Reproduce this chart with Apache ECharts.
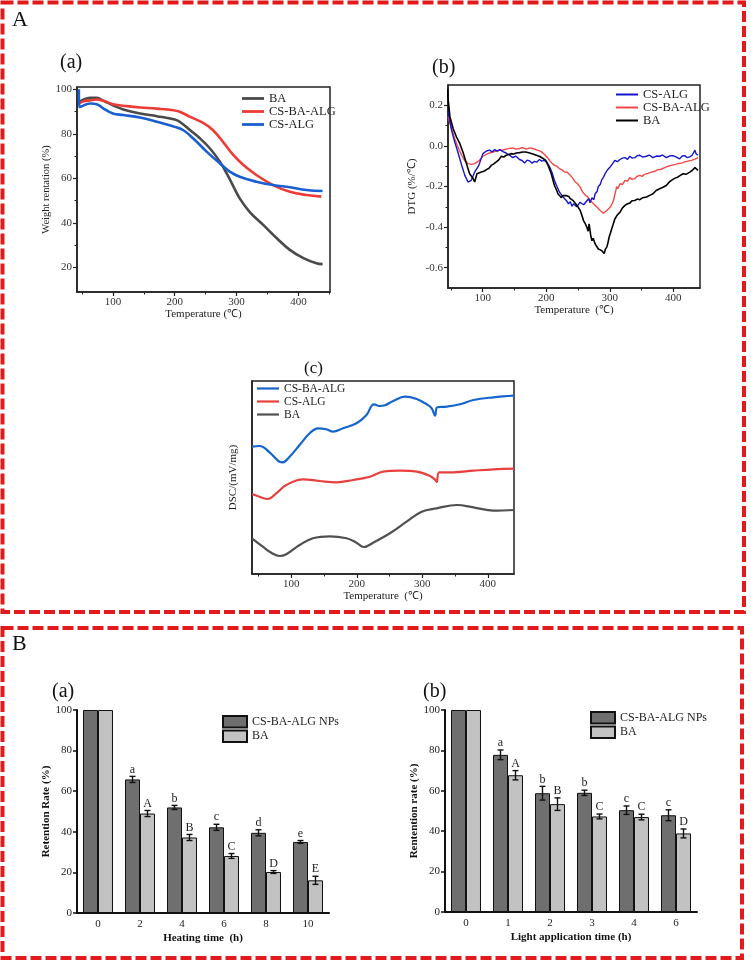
<!DOCTYPE html>
<html><head><meta charset="utf-8">
<script src="https://cdn.jsdelivr.net/npm/echarts@6/dist/echarts.min.js"></script>
<style>html,body{margin:0;padding:0;background:#fff}#c{width:751px;height:962px}</style>
</head><body><div id="c"></div>
<script>
// ---------- DATA ----------
// A(a) TGA: [temperature, weight %]
const tgaBA = [[45,94.0],[53,95.4],[63,96.1],[74,96.1],[85,94.8],[100,92.8],[117,90.9],[144,89.1],[171,87.9],[200,86.4],[208,85.4],[225,81.6],[241,77.9],[257,73.4],[273,67.5],[284,62.2],[295,56.3],[305,51.0],[321,45.0],[343,39.1],[365,33.1],[386,27.9],[408,24.2],[429,21.9],[439,21.5]];
const tgaCSBAALG = [[45,93.6],[53,94.6],[63,95.0],[74,95.4],[85,94.8],[100,93.3],[123,92.4],[144,91.8],[171,91.3],[198,90.6],[208,89.9],[225,87.6],[246,84.9],[262,81.6],[278,76.4],[295,70.4],[311,66.0],[332,61.5],[359,57.0],[386,54.0],[413,52.5],[437,51.8]];
const tgaCSALG = [[45,100],[45.5,92],[50,92.4],[63,93.6],[74,93.3],[85,91.3],[100,89.1],[117,88.4],[144,87.3],[171,85.4],[200,83.1],[214,81.6],[230,77.9],[252,71.9],[273,66.7],[289,63.0],[305,60.7],[332,58.5],[359,57.0],[386,56.0],[413,54.8],[439,54.3]];
const tgaLegend = ['BA','CS-BA-ALG','CS-ALG'];

// A(b) DTG: [temperature, %/°C]
const dtgCSALG = [[45.5,0.177],[51,0.078],[56,0.02],[61,-0.03],[67,-0.095],[72,-0.145],[77,-0.178],[82,-0.17],[87.5,-0.129],[94,-0.096],[100.5,-0.038],[106,-0.025],[111,-0.021],[115,-0.03],[119,-0.018],[123,-0.026],[127,-0.018],[132,-0.028],[137,-0.035],[142,-0.045],[147.5,-0.058],[152,-0.05],[158,-0.067],[162,-0.072],[166,-0.084],[170,-0.07],[174,-0.074],[178,-0.085],[181.5,-0.076],[185,-0.08],[189.5,-0.067],[193,-0.075],[197,-0.071],[201,-0.08],[205.5,-0.104],[209,-0.13],[213,-0.17],[217,-0.2],[221,-0.228],[225,-0.245],[229,-0.26],[232,-0.27],[235,-0.285],[238,-0.275],[240.5,-0.298],[243,-0.285],[245.7,-0.277],[248,-0.3],[251,-0.293],[253,-0.278],[256,-0.269],[259,-0.29],[261.5,-0.289],[264,-0.27],[266.7,-0.26],[269,-0.28],[272,-0.255],[275,-0.265],[277,-0.236],[280,-0.225],[282,-0.2],[285,-0.19],[287.5,-0.166],[290,-0.155],[292.7,-0.137],[296,-0.12],[300.5,-0.104],[304,-0.09],[308,-0.071],[312,-0.078],[316,-0.067],[320,-0.06],[324,-0.058],[328,-0.066],[331.5,-0.051],[335,-0.06],[339.5,-0.058],[343,-0.048],[347.3,-0.046],[352,-0.055],[357.7,-0.051],[362,-0.045],[368,-0.058],[373,-0.05],[378.5,-0.051],[383,-0.045],[389,-0.058],[394,-0.05],[399.5,-0.048],[405,-0.055],[410,-0.064],[414,-0.05],[418,-0.048],[422,-0.058],[426,-0.054],[430,-0.045],[434,-0.021],[436,-0.04],[439,-0.046]];
const dtgCSBAALG = [[45.5,0.144],[51,0.086],[56,0.037],[61,-0.005],[67,-0.046],[72,-0.074],[77,-0.087],[82,-0.091],[87.5,-0.087],[94,-0.074],[100.5,-0.051],[108,-0.038],[116,-0.03],[122,-0.025],[127,-0.021],[132,-0.02],[137,-0.016],[142,-0.012],[147.5,-0.01],[152,-0.016],[158,-0.013],[163,-0.008],[168.5,-0.016],[174,-0.01],[179,-0.013],[184,-0.018],[189.5,-0.025],[193,-0.03],[197,-0.041],[201,-0.055],[205.5,-0.071],[209,-0.085],[213,-0.096],[217,-0.1],[221,-0.112],[225,-0.118],[229,-0.129],[233,-0.13],[238,-0.145],[242,-0.16],[245.7,-0.178],[249,-0.185],[253.5,-0.203],[257,-0.225],[261.5,-0.244],[265,-0.25],[269.3,-0.269],[273,-0.28],[277,-0.293],[281,-0.305],[285,-0.318],[288,-0.325],[290,-0.332],[293,-0.325],[295.5,-0.318],[298,-0.31],[300.5,-0.302],[303,-0.29],[305.8,-0.269],[308,-0.24],[311,-0.2],[313,-0.21],[316,-0.186],[320,-0.19],[324,-0.17],[328,-0.175],[331.5,-0.156],[335,-0.165],[339.5,-0.161],[343,-0.15],[347.3,-0.145],[351,-0.15],[355,-0.14],[360,-0.135],[365.7,-0.129],[371,-0.125],[376,-0.117],[381,-0.115],[386.5,-0.107],[392,-0.1],[397,-0.096],[402,-0.092],[407.5,-0.087],[413,-0.085],[418,-0.079],[423,-0.075],[428.5,-0.071],[434,-0.065],[439,-0.058]];
const dtgBA = [[45,0.28],[45.5,0.235],[48.5,0.144],[53.5,0.086],[58.7,0.045],[64,0.012],[69,-0.03],[74.5,-0.087],[79.5,-0.137],[85,-0.161],[87.5,-0.178],[91,-0.137],[94,-0.14],[98,-0.129],[102,-0.125],[106,-0.117],[110,-0.11],[113.5,-0.096],[117,-0.09],[121.5,-0.079],[125,-0.07],[129.5,-0.051],[133,-0.055],[137,-0.046],[141,-0.042],[145,-0.038],[149,-0.04],[153,-0.035],[158,-0.033],[163.5,-0.03],[168,-0.03],[174,-0.035],[179,-0.04],[184.5,-0.046],[190,-0.052],[195,-0.062],[199,-0.07],[203,-0.096],[208,-0.137],[213,-0.195],[216,-0.215],[218.5,-0.236],[221,-0.245],[224,-0.255],[226,-0.245],[229,-0.252],[232,-0.245],[235.5,-0.249],[238,-0.26],[242,-0.268],[245.7,-0.282],[250,-0.3],[253.5,-0.318],[256,-0.34],[258.7,-0.368],[261,-0.38],[264,-0.401],[266,-0.42],[267.5,-0.384],[270,-0.44],[272,-0.467],[274,-0.455],[277,-0.483],[279,-0.49],[282,-0.508],[284,-0.5],[287.5,-0.516],[289,-0.51],[291.3,-0.53],[293,-0.51],[295.5,-0.497],[297,-0.48],[299,-0.45],[301,-0.43],[303,-0.409],[305,-0.39],[308,-0.36],[312,-0.34],[316,-0.327],[320,-0.305],[324,-0.293],[328,-0.285],[331.5,-0.282],[335,-0.27],[339.5,-0.269],[343,-0.262],[347.3,-0.265],[352,-0.255],[357.7,-0.252],[362,-0.245],[368,-0.236],[373,-0.22],[378.5,-0.211],[383,-0.205],[389,-0.195],[393,-0.18],[397,-0.17],[402,-0.16],[407.5,-0.153],[411,-0.145],[415.5,-0.137],[420,-0.14],[426,-0.129],[430,-0.12],[434,-0.107],[437,-0.115],[439,-0.12]];
const dtgLegend = ['CS-ALG','CS-BA-ALG','BA'];

// A(c) DSC (arbitrary units): [temperature, signal]
const dscCSBAALG = [[40,127.3],[51.5,128],[66.8,121.7],[82,112.3],[87,111.7],[97.4,117.3],[112.7,129],[128,140.7],[140.8,145.7],[153.6,144.7],[163.8,142.3],[179,145.7],[199.5,150.7],[214.8,159],[226,169.7],[235,168],[243,168.7],[255.6,173],[273.5,177.3],[291.4,175],[306.7,169.7],[314.4,165.7],[319.5,158.3],[323,166.7],[337.4,167.3],[357.7,169.7],[378,174],[408.7,176.7],[440,178.3]];
const dscCSALG = [[40,80],[51.5,77.3],[64.2,75],[77,80.7],[92.3,89],[117.8,94.7],[143.3,93],[168.9,91.7],[194.3,94],[220,97.3],[240.3,102.3],[265.8,103.3],[291.4,102.3],[311.8,98],[320,94],[322,92],[326,101.7],[347.5,101.7],[378,103.3],[408.7,104.7],[440,105.3]];
const dscBA = [[40,35.7],[56.5,27.3],[69.4,21.3],[82,18],[92.3,19.7],[112.7,29],[133,35.7],[158.7,37.7],[184.2,35.7],[199.5,31.3],[210.7,27],[225,31.3],[250.5,40.7],[276,52.3],[299,62.3],[322,65.7],[352.7,69],[378,66.7],[408.7,63.3],[440,64]];
const dscLegend = ['CS-BA-ALG','CS-ALG','BA'];

// B(a) heating stability
const heatCats = ['0','2','4','6','8','10'];
const heatNP = [100, 65.8, 52.0, 42.2, 39.5, 35.0];
const heatNPErr = [0, 1.5, 1.0, 1.5, 1.5, 0.7];
const heatNPLetters = ['', 'a', 'b', 'c', 'd', 'e'];
const heatBA = [100, 49.0, 37.2, 28.1, 20.2, 16.1];
const heatBAErr = [0, 1.5, 1.5, 1.2, 0.7, 2.0];
const heatBALetters = ['', 'A', 'B', 'C', 'D', 'E'];

// B(b) light stability
const lightCats = ['0','1','2','3','4','6'];
const lightNP = [100, 77.8, 58.8, 59.0, 50.4, 47.9];
const lightNPErr = [0, 2.4, 3.4, 1.3, 2.1, 2.7];
const lightNPLetters = ['', 'a', 'b', 'b', 'c', 'c'];
const lightBA = [100, 67.7, 53.4, 47.3, 47.0, 38.9];
const lightBAErr = [0, 2.3, 3.1, 1.2, 1.4, 2.2];
const lightBALetters = ['', 'A', 'B', 'C', 'C', 'D'];
const barLegend = ['CS-BA-ALG NPs', 'BA'];

// tick values
const tempTicks = [100, 200, 300, 400];
const tempMinor = [50, 150, 250, 350, 450];
const tgaTicks = [20, 40, 60, 80, 100];
const tgaMinor = [30, 50, 70, 90];
const dtgTicks = [-0.6, -0.4, -0.2, 0.0, 0.2];
const dtgMinor = [-0.5, -0.3, -0.1, 0.1];

// ---------- STYLE ----------
const F = 'Liberation Serif';
const AX = '#222';
const BAR_FRAC = 0.357;
const chart = echarts.init(document.getElementById('c'), null, {renderer: 'canvas'});

function valX(g, min, max, name, gap) {
  return {type: 'value', gridIndex: g, min, max, position: 'bottom',
    name, nameLocation: 'middle', nameGap: gap,
    nameTextStyle: {fontFamily: F, fontSize: 11, color: '#222'},
    axisLine: {onZero: false, lineStyle: {color: AX, width: 1.5}},
    axisTick: {customValues: tempTicks, length: 4, lineStyle: {color: AX, width: 1.2}},
    axisLabel: {customValues: tempTicks, margin: 5, fontFamily: F, fontSize: 11, color: '#333'},
    splitLine: {show: false}};
}
function minorX(g, min, max) {
  return {type: 'value', gridIndex: g, min, max, position: 'bottom',
    axisLine: {show: false, onZero: false},
    axisTick: {customValues: tempMinor, length: 2.5, lineStyle: {color: AX, width: 1}},
    axisLabel: {show: false}, splitLine: {show: false}};
}
function minorY(g, min, max, vals) {
  return {type: 'value', gridIndex: g, min, max, position: 'left',
    axisLine: {show: false, onZero: false},
    axisTick: {customValues: vals, length: 2.5, lineStyle: {color: AX, width: 1}},
    axisLabel: {show: false}, splitLine: {show: false}};
}
function barCat(g, cats, name) {
  return {type: 'category', gridIndex: g, data: cats, position: 'bottom',
    name, nameLocation: 'middle', nameGap: 20,
    nameTextStyle: {fontFamily: F, fontSize: 11, fontWeight: 'bold', color: '#111'},
    axisLine: {onZero: false, lineStyle: {color: '#111', width: 2}},
    axisTick: {length: 4, lineStyle: {color: '#111', width: 1.5}},
    axisLabel: {margin: 6, fontFamily: F, fontSize: 11, color: '#222'},
    splitLine: {show: false}};
}
function barVal(g, name) {
  return {type: 'value', gridIndex: g, min: 0, max: 100, interval: 20, position: 'left',
    name, nameLocation: 'middle', nameGap: 21,
    nameTextStyle: {fontFamily: F, fontSize: 11, fontWeight: 'bold', color: '#111'},
    axisLine: {show: true, onZero: false, lineStyle: {color: '#111', width: 2}},
    axisTick: {show: true, length: 4, lineStyle: {color: '#111', width: 1.5}},
    axisLabel: {margin: 5, fontFamily: F, fontSize: 11, color: '#222'},
    splitLine: {show: false}};
}
function lineS(name, data, xi, yi, color, width, smooth) {
  return {type: 'line', name, data, xAxisIndex: xi, yAxisIndex: yi, symbol: 'none',
    smooth: smooth, lineStyle: {color, width}, itemStyle: {color}, animation: false};
}
function barS(name, data, xi, yi, color) {
  return {type: 'bar', name, data, xAxisIndex: xi, yAxisIndex: yi, barWidth: (BAR_FRAC * 100) + '%', barGap: '0%',
    itemStyle: {color, borderColor: '#111', borderWidth: 1}, animation: false};
}
function errS(vals, errs, letters, xi, yi, side) {
  return {type: 'custom', xAxisIndex: xi, yAxisIndex: yi, z: 5, animation: false,
    data: vals.map((v, i) => [i, v, errs[i]]),
    encode: {x: 0, y: 1},
    renderItem: function (params, api) {
      const i = api.value(0), v = api.value(1), e = api.value(2);
      const band = api.size([1, 0])[0];
      const off = side * band * BAR_FRAC / 2;
      const top = api.coord([i, v + e]);
      const bot = api.coord([i, v - e]);
      const x = top[0] + off;
      const children = [];
      if (e > 0) {
        const st = {stroke: '#111', lineWidth: 1.4};
        children.push({type: 'line', shape: {x1: x, y1: top[1], x2: x, y2: bot[1]}, style: st});
        children.push({type: 'line', shape: {x1: x - 3, y1: top[1], x2: x + 3, y2: top[1]}, style: st});
        children.push({type: 'line', shape: {x1: x - 3, y1: bot[1], x2: x + 3, y2: bot[1]}, style: st});
      }
      const t = letters[params.dataIndex];
      if (t) children.push({type: 'text', x: x, y: top[1] - 1,
        style: {text: t, fill: '#222', font: '12px "' + F + '"', textAlign: 'center', textVerticalAlign: 'bottom'}});
      return {type: 'group', children};
    }};
}
function lineLegend(prefix, names, left, top, fs, thick) {
  return {orient: 'vertical', left, top, itemWidth: 22, itemHeight: thick, itemGap: 0, padding: 0, icon: 'rect',
    data: names.map(n => prefix + '|' + n), formatter: n => n.split('|')[1],
    textStyle: {fontFamily: F, fontSize: fs, color: '#222', lineHeight: 13}, selectedMode: false};
}
function barLegendC(prefix, left, top) {
  return {orient: 'vertical', left, top, itemWidth: 24, itemHeight: 11.5, itemGap: 1, padding: 0, icon: 'rect',
    data: barLegend.map(n => prefix + '|' + n), formatter: n => n.split('|')[1],
    textStyle: {fontFamily: F, fontSize: 12, color: '#222'}, selectedMode: false};
}
const boxGrid = {show: true, borderColor: '#222', borderWidth: 1.5, backgroundColor: 'transparent'};
const tStyle = (fs) => ({fontFamily: F, fontSize: fs, fontWeight: 'normal', color: '#111'});

const option = {
  backgroundColor: '#fff',
  animation: false,
  title: [
    {text: 'A', left: 12, top: 9, padding: 0, textStyle: tStyle(22)},
    {text: '(a)', left: 60, top: 53, padding: 0, textStyle: tStyle(20)},
    {text: '(b)', left: 432, top: 58, padding: 0, textStyle: tStyle(20)},
    {text: '(c)', left: 304, top: 360, padding: 0, textStyle: tStyle(17)},
    {text: 'B', left: 12, top: 633, padding: 0, textStyle: tStyle(22)},
    {text: '(a)', left: 52, top: 682, padding: 0, textStyle: tStyle(20)},
    {text: '(b)', left: 423, top: 682, padding: 0, textStyle: tStyle(20)}
  ],
  grid: [
    Object.assign({left: 77, top: 87, width: 253, height: 205}, boxGrid),
    Object.assign({left: 448, top: 85, width: 252, height: 203}, boxGrid),
    Object.assign({left: 252, top: 381, width: 262, height: 193}, boxGrid),
    {left: 77, top: 710, width: 252, height: 203},
    {left: 445, top: 710, width: 252, height: 202}
  ],
  xAxis: [
    valX(0, 42, 451, 'Temperature (\u2103)', 16),
    minorX(0, 42, 451),
    valX(1, 45.5, 442, 'Temperature  (\u2103)', 17),
    minorX(1, 45.5, 442),
    valX(2, 40, 440, 'Temperature  (\u2103)', 17),
    minorX(2, 40, 440),
    barCat(3, heatCats, 'Heating time  (h)'),
    barCat(4, lightCats, 'Light application time (h)')
  ],
  yAxis: [
    {type: 'value', gridIndex: 0, min: 9, max: 101, position: 'left',
      name: 'Weight rentation (%)', nameLocation: 'middle', nameGap: 22,
      nameTextStyle: {fontFamily: F, fontSize: 10.5, color: '#222'},
      axisLine: {onZero: false, lineStyle: {color: AX, width: 1.5}},
      axisTick: {customValues: tgaTicks, length: 4, lineStyle: {color: AX, width: 1.2}},
      axisLabel: {customValues: tgaTicks, margin: 5, fontFamily: F, fontSize: 11, color: '#333'},
      splitLine: {show: false}},
    minorY(0, 9, 101, tgaMinor),
    {type: 'value', gridIndex: 1, min: -0.7, max: 0.3, position: 'left',
      name: 'DTG (%/\u2103)', nameLocation: 'middle', nameGap: 30,
      nameTextStyle: {fontFamily: F, fontSize: 11, color: '#222'},
      axisLine: {onZero: false, lineStyle: {color: AX, width: 1.5}},
      axisTick: {customValues: dtgTicks, length: 4, lineStyle: {color: AX, width: 1.2}},
      axisLabel: {customValues: dtgTicks, margin: 5, fontFamily: F, fontSize: 11, color: '#333',
        formatter: v => Number(v).toFixed(1)},
      splitLine: {show: false}},
    minorY(1, -0.7, 0.3, dtgMinor),
    {type: 'value', gridIndex: 2, min: 0, max: 193, position: 'left',
      name: 'DSC/(mV/mg)', nameLocation: 'middle', nameGap: 13,
      nameTextStyle: {fontFamily: F, fontSize: 11, color: '#222'},
      axisLine: {onZero: false, lineStyle: {color: AX, width: 1.5}},
      axisTick: {show: false}, axisLabel: {show: false}, splitLine: {show: false}},
    barVal(3, 'Retention Rate (%)'),
    barVal(4, 'Rentention rate (%)')
  ],
  legend: [
    lineLegend('a', tgaLegend, 242, 92, 12.5, 2.8),
    lineLegend('b', dtgLegend, 616, 88, 12.5, 2),
    lineLegend('c', dscLegend, 257, 382, 11.5, 2.2),
    barLegendC('d', 222, 715),
    barLegendC('e', 590, 711)
  ],
  series: [
    lineS('a|BA', tgaBA, 0, 0, '#4a4a4a', 2.6, 0.4),
    lineS('a|CS-BA-ALG', tgaCSBAALG, 0, 0, '#ee3b36', 2.6, 0.4),
    lineS('a|CS-ALG', tgaCSALG, 0, 0, '#1a5fd1', 2.6, 0.4),
    lineS('b|CS-BA-ALG', dtgCSBAALG, 2, 2, '#f44848', 1.4, false),
    lineS('b|CS-ALG', dtgCSALG, 2, 2, '#1515d0', 1.4, false),
    lineS('b|BA', dtgBA, 2, 2, '#000000', 1.6, false),
    lineS('c|CS-BA-ALG', dscCSBAALG, 4, 4, '#1565cc', 2.2, 0.4),
    lineS('c|CS-ALG', dscCSALG, 4, 4, '#e8403f', 2.2, 0.4),
    lineS('c|BA', dscBA, 4, 4, '#505050', 2.2, 0.4),
    barS('d|CS-BA-ALG NPs', heatNP, 6, 5, '#6f6f6f'),
    barS('d|BA', heatBA, 6, 5, '#c2c2c2'),
    errS(heatNP, heatNPErr, heatNPLetters, 6, 5, -1),
    errS(heatBA, heatBAErr, heatBALetters, 6, 5, 1),
    barS('e|CS-BA-ALG NPs', lightNP, 7, 6, '#6f6f6f'),
    barS('e|BA', lightBA, 7, 6, '#c2c2c2'),
    errS(lightNP, lightNPErr, lightNPLetters, 7, 6, -1),
    errS(lightBA, lightBAErr, lightBALetters, 7, 6, 1)
  ],
  graphic: [
    {type: 'rect', z: -1, shape: {x: 2.5, y: 2.5, width: 741.5, height: 609.5},
      style: {fill: 'none', stroke: '#e31a1c', lineWidth: 4, lineDash: [11, 4]}},
    {type: 'rect', z: -1, shape: {x: 2.5, y: 628, width: 739.5, height: 330},
      style: {fill: 'none', stroke: '#e31a1c', lineWidth: 4, lineDash: [11, 4]}}
  ]
};
chart.setOption(option);
</script></body></html>
